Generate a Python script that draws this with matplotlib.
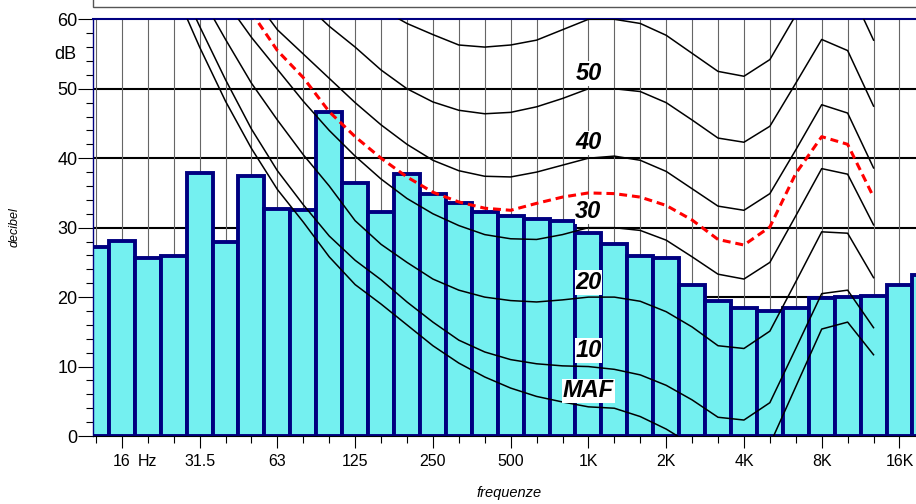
import numpy as np
import matplotlib.pyplot as plt
from matplotlib.patches import Rectangle

plt.rcParams['font.family'] = ['Liberation Sans', 'DejaVu Sans']

# third-octave bands, 12.5 Hz .. 20 kHz
bands = ['12.5', '16', '20', '25', '31.5', '40', '50', '63', '80', '100', '125', '160',
         '200', '250', '315', '400', '500', '630', '800', '1K', '1.25K', '1.6K', '2K',
         '2.5K', '3.15K', '4K', '5K', '6.3K', '8K', '10K', '12.5K', '16K', '20K']
tick_names = ['', '16', 'Hz', '', '31.5', '', '', '63', '', '', '125', '', '', '250', '',
              '', '500', '', '', '1K', '', '', '2K', '', '', '4K', '', '', '8K', '', '',
              '16K', '']

# measured spectrum (dB)
levels = [27.2, 28.1, 25.6, 25.9, 37.8, 28.0, 37.4, 32.7, 32.6, 46.6, 36.5, 32.3, 37.7,
          34.8, 33.6, 32.3, 31.7, 31.3, 31.0, 29.2, 27.6, 25.9, 25.7, 21.7, 19.5, 18.5,
          18.0, 18.5, 19.9, 20.0, 20.2, 21.8, 23.2]

# isophonic curves (first band index, values)
maf_start = 3
maf = [64.5, 56.0, 48.2, 41.4, 35.5, 30.8, 25.8, 21.8, 19.0, 16.0, 13.0, 10.5, 8.5, 6.9,
       5.7, 4.9, 4.2, 4.0, 2.8, 1.0, -1.3, -5.0, -5.5, -1.2, 7.1, 15.4, 16.4, 11.7]
ph10_start = 3
ph10 = [67.0, 59.0, 51.3, 44.2, 38.2, 33.3, 28.8, 25.3, 22.5, 19.3, 16.4, 13.8, 12.1, 11.0,
        10.4, 10.1, 10.0, 9.6, 8.8, 7.3, 5.2, 2.7, 2.3, 4.8, 12.6, 20.5, 21.0, 15.6]
ph20_start = 4
ph20 = [63.7, 57.1, 50.8, 45.5, 40.5, 36.0, 31.0, 27.6, 25.0, 22.6, 21.0, 20.0, 19.5, 19.3,
        19.6, 20.0, 20.0, 19.4, 17.9, 15.7, 13.0, 12.6, 15.1, 22.2, 29.4, 29.2, 22.8]
ph30_start = 5
ph30 = [62.6, 57.4, 52.8, 48.2, 44.0, 40.3, 37.0, 34.2, 32.0, 30.3, 29.0, 28.4, 28.3, 29.0,
        30.0, 30.0, 29.6, 28.2, 25.8, 23.3, 22.6, 25.0, 31.7, 38.5, 37.7, 30.4]
red_start = 6
red = [61.0, 55.5, 51.6, 46.7, 43.1, 40.0, 37.3, 35.1, 33.7, 32.8, 32.5, 33.5, 34.4, 35.0,
       34.9, 34.4, 33.2, 31.1, 28.3, 27.5, 30.1, 37.8, 43.1, 42.0, 34.4]
ph40_start = 6
ph40 = [63.5, 58.5, 55.0, 51.5, 48.0, 44.8, 42.0, 39.7, 38.2, 37.4, 37.3, 38.0, 39.0, 40.0,
        40.3, 39.7, 38.1, 35.6, 33.1, 32.5, 34.9, 41.2, 47.7, 46.5, 38.6]
ph50_start = 7
ph50 = [66.0, 62.5, 59.0, 56.0, 52.7, 50.0, 48.1, 46.9, 46.4, 46.6, 47.4, 48.6, 50.0, 50.0,
        49.6, 48.0, 45.5, 42.9, 42.3, 44.6, 50.8, 57.1, 55.5, 47.5]
ph60_start = 10
ph60 = [64.0, 61.5, 59.4, 57.8, 56.3, 56.0, 56.3, 57.0, 58.5, 60.0, 60.0, 59.4, 57.7, 55.1,
        52.5, 51.8, 54.2, 60.6, 67.0, 65.0, 57.0]

curve_names = ['50', '40', '30', '20', '10', 'MAF']
curve_label_y = [52.2, 42.2, 32.3, 22.1, 12.3, 6.5]

x = np.arange(len(bands))

fig = plt.figure(figsize=(9.16, 5.04), dpi=100)
ax = fig.add_axes([0.1019, 0.1349, 0.9225, 0.8268])
ax.set_xlim(-0.1, 32.5)
ax.set_ylim(0, 60)

# grid
for v in range(10, 60, 10):
    ax.axhline(v, color='black', lw=1.5, zorder=1)
ax.vlines(x, 0, 60, color='#666666', lw=0.8, zorder=1)

ax.bar(x, levels, width=1.0, color='#74F0F0', edgecolor='#000080', lw=2.8, zorder=2)

for start, vals in [(maf_start, maf), (ph10_start, ph10), (ph20_start, ph20),
                    (ph30_start, ph30), (ph40_start, ph40), (ph50_start, ph50),
                    (ph60_start, ph60)]:
    ax.plot(x[start:start + len(vals)], vals, color='black', lw=1.1, zorder=3)
ax.plot(x[red_start:red_start + len(red)], red, color='red', lw=2.2,
        dashes=(2.6, 1.6), zorder=3)

for name, yv in zip(curve_names, curve_label_y):
    ax.text(19, yv, name, ha='center', va='center', fontsize=17, fontweight='bold',
            fontstyle='italic', zorder=4,
            bbox=dict(facecolor='white', edgecolor='none', pad=0.5))

# axes styling
ax.spines['right'].set_visible(False)
ax.spines['top'].set_color('#000080')
ax.spines['top'].set_linewidth(1.5)
ax.spines['left'].set_color('#000080')
ax.spines['left'].set_linewidth(1.0)
ax.spines['bottom'].set_linewidth(0.8)

ax.set_yticks(range(0, 61, 10))
ax.set_yticks(range(0, 61, 2), minor=True)
ax.tick_params(axis='y', which='major', length=10.5, width=0.8, labelsize=13, pad=1)
ax.tick_params(axis='y', which='minor', length=5.3, width=0.8)
ax.annotate('dB', xy=(0, 55), xycoords=ax.get_yaxis_transform(), xytext=(-17, 0),
            textcoords='offset pixels', ha='right', va='center', fontsize=13)

major_idx = [i for i, t in enumerate(tick_names) if t and t != 'Hz']
minor_idx = [i for i in x if i not in major_idx]
ax.set_xticks(major_idx)
ax.set_xticklabels([tick_names[i] for i in major_idx])
ax.set_xticks(minor_idx, minor=True)
ax.set_xticklabels([tick_names[i] for i in minor_idx], minor=True)
ax.tick_params(axis='x', which='major', length=8.6, width=0.8, labelsize=11.5, pad=4.4)
ax.tick_params(axis='x', which='minor', length=5, width=0.8, labelsize=11.5, pad=8)

fig.text(15 / 916, 1 - 226.7 / 504, 'decibel', rotation=90, fontstyle='italic',
         fontsize=9, ha='center', va='center')
fig.text(509 / 916, 1 - 493 / 504, 'frequenze', fontstyle='italic', fontsize=10.5,
         ha='center', va='center')

fig.patches.append(Rectangle((93.3 / 916, 1 - 7.3 / 504), 1, 0.1, transform=fig.transFigure,
                             facecolor='white', edgecolor='#555555', lw=1))

fig.savefig('out.png', dpi=100)
